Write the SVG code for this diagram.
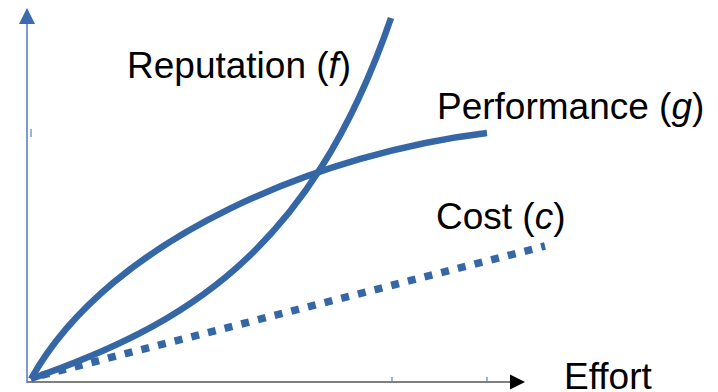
<svg xmlns="http://www.w3.org/2000/svg" width="718" height="392" viewBox="0 0 718 392">
<style>
.lbl{font-family:"Liberation Sans",Arial,sans-serif;font-size:37px;fill:#000}
.curve{fill:none;stroke:#3566a6;stroke-width:6.5}
.tick{stroke:#5b82c4;stroke-width:1.2}
</style>
<rect width="718" height="392" fill="#fff"/>
<g id="axes">
<line x1="27" y1="382" x2="511" y2="382" stroke="#7f7f7f" stroke-width="2"/>
<polygon points="525,382 510,374.5 510,389.5" fill="#000"/>
<line x1="27" y1="383" x2="27" y2="22" stroke="#5b82c4" stroke-width="1.6"/>
<polygon points="27,8 19,24 35,24" fill="#3a6ab0"/>
<line class="tick" x1="31" y1="129" x2="31" y2="137"/>
<line class="tick" x1="392" y1="377" x2="392" y2="382"/>
<line class="tick" x1="487" y1="377" x2="487" y2="382"/>
<text class="lbl" x="564" y="389" font-size="36">Effort</text>
</g>
<g id="connectors">
<path id="performance" class="curve" d="M31,379 C111,235 327,152 487,133"/>
<path id="reputation" class="curve" d="M31,379 C181,326 309,256 391,18"/>
<line id="cost" x1="31" y1="378" x2="545" y2="246" stroke="#3566a6" stroke-width="7.5" stroke-dasharray="8 9.2" stroke-dashoffset="6.5"/>
</g>
<g id="label-reputation"><text class="lbl" x="127" y="78">Reputation (<tspan font-style="italic">f</tspan>)</text></g>
<g id="label-performance"><text class="lbl" x="437" y="119">Performance (<tspan font-style="italic">g</tspan>)</text></g>
<g id="label-cost"><text class="lbl" x="436" y="229">Cost (<tspan font-style="italic">c</tspan>)</text></g>
</svg>
